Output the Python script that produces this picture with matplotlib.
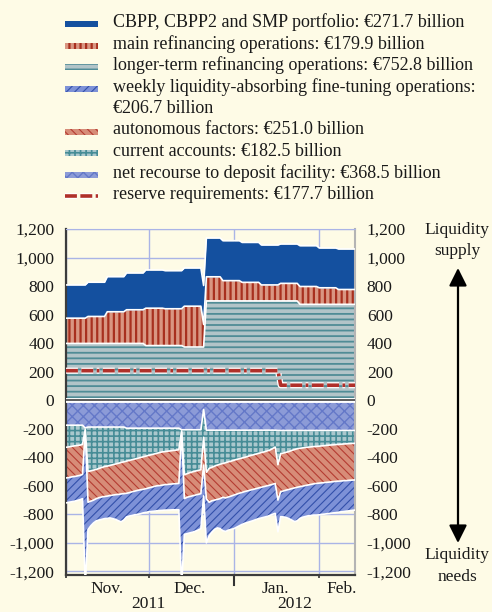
import matplotlib
matplotlib.use('Agg')
import numpy as np
import pandas as pd
import matplotlib.pyplot as plt
import matplotlib.dates as mdates
import matplotlib.transforms as mtransforms
import matplotlib.patheffects as pe
from matplotlib.patches import Rectangle

plt.rcParams['font.family'] = ['Liberation Serif', 'DejaVu Serif']
plt.rcParams['axes.unicode_minus'] = False
plt.rcParams['hatch.linewidth'] = 1.0

# daily values, EUR billions, 1 Nov 2011 - 14 Feb 2012
# first row = 1 Nov, then one row per week (Wed - Tue)
dates = pd.date_range('2011-11-01', '2012-02-14', freq='D')

# liquidity supply
ltro = [398,
        398, 398, 398, 398, 398, 398, 398,
        398, 398, 398, 398, 398, 398, 398,
        398, 398, 398, 398, 398, 398, 398,
        398, 398, 398, 398, 398, 398, 398,
        383, 383, 383, 383, 383, 383, 383,
        383, 383, 383, 383, 383, 383, 383,
        373, 373, 373, 373, 373, 373, 373,
        373, 696, 696, 696, 696, 696, 696,
        696, 696, 696, 696, 696, 696, 696,
        696, 696, 696, 696, 696, 696, 696,
        696, 696, 696, 696, 696, 696, 696,
        696, 696, 696, 696, 696, 696, 696,
        672, 672, 672, 672, 672, 672, 672,
        672, 672, 672, 672, 672, 672, 672,
        672, 672, 672, 672, 672, 672, 672]
mro = [177,
       177, 177, 177, 177, 177, 177, 177,
       189, 189, 189, 189, 189, 189, 189,
       222, 222, 222, 222, 222, 222, 222,
       236, 236, 236, 236, 236, 236, 236,
       262, 262, 262, 262, 262, 262, 262,
       258, 258, 258, 258, 258, 258, 258,
       286, 286, 286, 286, 286, 286, 286,
       158, 169, 169, 169, 169, 169, 169,
       142, 142, 142, 142, 142, 142, 142,
       130, 130, 130, 130, 130, 130, 130,
       112, 112, 112, 112, 112, 112, 112,
       123, 123, 123, 123, 123, 123, 123,
       125, 125, 125, 125, 125, 125, 125,
       116, 116, 116, 116, 116, 116, 116,
       104, 104, 104, 104, 104, 104, 104]
smp = [233,
       233, 233, 233, 233, 233, 233, 233,
       240, 240, 240, 240, 240, 240, 240,
       246, 246, 246, 246, 246, 246, 246,
       258, 258, 258, 258, 258, 258, 258,
       268, 268, 268, 268, 268, 268, 268,
       267, 267, 267, 267, 267, 267, 267,
       268, 268, 268, 268, 268, 268, 268,
       273, 272, 272, 272, 272, 272, 272,
       280, 280, 280, 280, 280, 280, 280,
       280, 280, 280, 280, 280, 280, 280,
       280, 280, 280, 280, 280, 280, 280,
       276, 276, 276, 276, 276, 276, 276,
       286, 286, 286, 286, 286, 286, 286,
       279, 279, 279, 279, 279, 279, 279,
       284, 284, 284, 284, 284, 284, 284]
reserve = [207,
           207, 207, 207, 207, 207, 207, 207,
           207, 207, 207, 207, 207, 207, 207,
           207, 207, 207, 207, 207, 207, 207,
           207, 207, 207, 207, 207, 207, 207,
           207, 207, 207, 207, 207, 207, 207,
           207, 207, 207, 207, 207, 207, 207,
           207, 207, 207, 207, 207, 207, 207,
           207, 207, 207, 207, 207, 207, 207,
           207, 207, 207, 207, 207, 207, 207,
           207, 207, 207, 207, 207, 207, 207,
           207, 207, 207, 207, 207, 207, 207,
           105, 105, 105, 105, 105, 105, 105,
           105, 105, 105, 105, 105, 105, 105,
           105, 105, 105, 105, 105, 105, 105,
           105, 105, 105, 105, 105, 105, 105]

# liquidity needs
deposit = [175,
           175, 175, 175, 175, 175, 175, 195,
           188, 188, 188, 188, 188, 188, 188,
           188, 188, 188, 188, 188, 188, 188,
           196, 196, 196, 196, 196, 196, 196,
           196, 196, 196, 196, 196, 196, 196,
           196, 196, 196, 196, 196, 196, 207,
           207, 207, 207, 207, 207, 207, 207,
           65, 210, 210, 210, 210, 210, 210,
           210, 210, 210, 210, 210, 210, 210,
           210, 210, 210, 210, 210, 210, 210,
           210, 210, 210, 210, 210, 210, 212,
           212, 212, 212, 212, 212, 212, 212,
           212, 212, 212, 212, 212, 212, 212,
           212, 212, 212, 212, 212, 212, 212,
           212, 212, 212, 212, 212, 212, 212]
current = [155,
           152, 149, 145, 143, 140, 135, 10,
           312, 307, 302, 297, 290, 284, 277,
           274, 269, 264, 259, 254, 249, 244,
           231, 226, 221, 216, 211, 206, 201,
           196, 191, 186, 181, 176, 171, 166,
           164, 161, 159, 156, 154, 151, 8,
           315, 308, 301, 295, 290, 285, 280,
           195, 295, 268, 260, 252, 245, 238,
           234, 228, 222, 217, 211, 205, 200,
           195, 190, 184, 178, 173, 168, 162,
           157, 152, 146, 140, 130, 118, 240,
           162, 158, 153, 148, 140, 134, 128,
           125, 122, 119, 117, 115, 113, 112,
           110, 108, 106, 104, 102, 101, 99,
           98, 96, 95, 93, 92, 91, 90]
autonomous = [215,
              215, 214, 215, 213, 212, 210, 10,
              215, 213, 210, 205, 205, 206, 210,
              210, 211, 213, 215, 218, 220, 223,
              225, 226, 225, 225, 225, 226, 228,
              228, 228, 228, 228, 228, 231, 233,
              232, 233, 233, 234, 235, 236, 10,
              168, 165, 167, 168, 168, 168, 168,
              195, 185, 237, 235, 238, 240, 242,
              236, 247, 246, 245, 244, 243, 242,
              241, 240, 241, 242, 242, 242, 243,
              243, 243, 244, 245, 250, 255, 248,
              267, 266, 265, 265, 268, 269, 270,
              269, 268, 267, 265, 263, 261, 259,
              259, 259, 259, 259, 259, 258, 258,
              257, 258, 257, 258, 257, 257, 257]
fine_tuning = [175,
               173, 174, 173, 172, 171, 170, 1085,
               190, 172, 160, 155, 157, 157, 155,
               156, 157, 165, 173, 185, 195, 185,
               166, 164, 166, 166, 168, 168, 165,
               166, 167, 170, 173, 175, 175, 177,
               178, 180, 181, 182, 183, 185, 1075,
               250, 255, 255, 255, 253, 250, 245,
               215, 310, 235, 220, 205, 200, 210,
               235, 235, 232, 233, 235, 232, 228,
               224, 222, 221, 220, 219, 216, 215,
               215, 215, 215, 213, 210, 210, 222,
               175, 182, 192, 205, 220, 236, 235,
               222, 218, 217, 216, 218, 219, 222,
               222, 221, 221, 220, 220, 219, 219,
               218, 216, 216, 214, 214, 212, 211]

legend_labels = ['CBPP, CBPP2 and SMP portfolio: €271.7 billion',
                 'main refinancing operations: €179.9 billion',
                 'longer-term refinancing operations: €752.8 billion',
                 'weekly liquidity-absorbing fine-tuning operations:\n€206.7 billion',
                 'autonomous factors: €251.0 billion',
                 'current accounts: €182.5 billion',
                 'net recourse to deposit facility: €368.5 billion',
                 'reserve requirements: €177.7 billion']
month_labels = ['Nov.', 'Dec.', 'Jan.', 'Feb.']
month_pos = ['2011-11-16', '2011-12-16', '2012-01-16', '2012-02-09']
year_labels = ['2011', '2012']
year_pos = ['2011-12-01', '2012-01-23']

BG = '#fefbe6'
GRID = '#aab4e6'
RES = '#b0302a'
# facecolor, hatch colour, hatch, hatch width
st_smp = ('#14509f', '#14509f', None, 1.0)
st_mro = ('#d99682', '#a8301f', '|||', 1.6)
st_ltro = ('#b2c4c8', '#508c96', '---', 1.3)
st_fto = ('#7d91d7', '#3250aa', '////', 0.8)
st_af = ('#d78c78', '#b43c32', '\\\\\\\\', 0.8)
st_ca = ('#aac8cd', '#468c96', '+++', 1.2)
st_df = ('#8c9bd7', '#6478c8', 'xxx', 1.0)
res_dash = (0, (3.3, 0.95, 3.3, 0.95, 0.75, 0.95))


def set_hatch_width(artist, w):
    if hasattr(artist, 'set_hatch_linewidth'):
        artist.set_hatch_linewidth(w)


fig = plt.figure(figsize=(4.92, 6.12), dpi=100, facecolor=BG)
ax = fig.add_axes([66 / 492, 37 / 612, 289 / 492, 346 / 612], facecolor=BG)

x = mdates.date2num(dates)

# supply stacked upwards
base = np.zeros(len(x))
for vals, (fc, hc, hatch, hw) in [(ltro, st_ltro), (mro, st_mro), (smp, st_smp)]:
    top = base + np.array(vals)
    coll = ax.fill_between(x, base, top, facecolor=fc, edgecolor=hc, hatch=hatch,
                           linewidth=0, zorder=2)
    set_hatch_width(coll, hw)
    ax.plot(x, top, color='white', lw=1.2, zorder=3)
    base = top

# needs stacked downwards
base = np.zeros(len(x))
for vals, (fc, hc, hatch, hw) in [(deposit, st_df), (current, st_ca),
                                  (autonomous, st_af), (fine_tuning, st_fto)]:
    bot = base - np.array(vals)
    coll = ax.fill_between(x, bot, base, facecolor=fc, edgecolor=hc, hatch=hatch,
                           linewidth=0, zorder=2)
    set_hatch_width(coll, hw)
    ax.plot(x, bot, color='white', lw=1.2, zorder=3)
    base = bot

ax.plot(x, reserve, color=RES, lw=2.6, linestyle=res_dash, zorder=4,
        path_effects=[pe.Stroke(linewidth=4.4, foreground='white'), pe.Normal()])

ax.axhline(0, color='white', lw=3.5, zorder=5)
ax.axhline(0, color='#404040', lw=1.2, zorder=6)

ax.set_xlim(x[0], x[-1])
ax.set_ylim(-1225, 1200)
yt = list(range(-1200, 1201, 200))
ax.set_yticks(yt)
ax.set_yticklabels(['{:,}'.format(v) for v in yt])
ax.tick_params(axis='y', length=0, labelsize=12.5, pad=8.5,
               labelleft=True, labelright=True, colors='#1a1a1a')

ax.xaxis.set_major_locator(mdates.MonthLocator())
ax.xaxis.set_major_formatter(plt.NullFormatter())
ax.tick_params(axis='x', which='major', length=2.5, width=1.2, color='#333333')
ax.set_xticks(mdates.date2num(pd.to_datetime(month_pos)), month_labels, minor=True)
ax.tick_params(axis='x', which='minor', length=0, labelsize=12.5, pad=4,
               colors='#1a1a1a')

ax.grid(True, which='major', color=GRID, lw=1)
ax.set_axisbelow(True)

trans = mtransforms.blended_transform_factory(ax.transData, ax.transAxes)
for lab, pos in zip(year_labels, year_pos):
    ax.text(mdates.date2num(pd.Timestamp(pos)), -0.083, lab, transform=trans,
            ha='center', va='center', fontsize=12.5, color='#1a1a1a')
jan1 = mdates.date2num(pd.Timestamp('2012-01-01'))
ax.plot([jan1, jan1], [0, -0.03], transform=trans, clip_on=False,
        color='#333333', lw=1.5)

for s in ['left', 'bottom']:
    ax.spines[s].set_color('#3c3c3c')
    ax.spines[s].set_linewidth(1.6)
ax.spines['top'].set_color(GRID)
ax.spines['right'].set_color('#b4b4b4')
ax.spines['right'].set_linewidth(1.5)

# overlay in pixel coordinates for legend and arrows
ov = fig.add_axes([0, 0, 1, 1])
ov.set_xlim(0, 492)
ov.set_ylim(612, 0)
ov.axis('off')
ov.patch.set_visible(False)

legend_styles = [st_smp, st_mro, st_ltro, st_fto, st_af, st_ca, st_df, None]
row = 0
for label, style in zip(legend_labels, legend_styles):
    y = 22.5 + 21.5 * row
    if style is None:
        ov.plot([65, 98], [y + 1, y + 1], color=RES, lw=2.6, linestyle=res_dash,
                path_effects=[pe.Stroke(linewidth=4.4, foreground='white'), pe.Normal()])
    else:
        fc, hc, hatch, hw = style
        p = Rectangle((65, y - 1.5), 33, 6, facecolor=fc, edgecolor=hc,
                      hatch=hatch, linewidth=0)
        set_hatch_width(p, hw)
        ov.add_patch(p)
    for line in label.split('\n'):
        ov.text(113, 22.5 + 21.5 * row, line, ha='left', va='center',
                fontsize=13, color='#1a1a1a')
        row += 1

ov.annotate('', xy=(458, 268), xytext=(458, 543),
            arrowprops=dict(arrowstyle='<|-|>', mutation_scale=27, lw=1.6,
                            color='black', shrinkA=0, shrinkB=0))
for txt, ty in [('Liquidity', 230), ('supply', 251), ('Liquidity', 555), ('needs', 577)]:
    ov.text(457, ty, txt, ha='center', va='center', fontsize=12.5, color='#1a1a1a')

fig.savefig('out.png', dpi=100, facecolor=BG)
